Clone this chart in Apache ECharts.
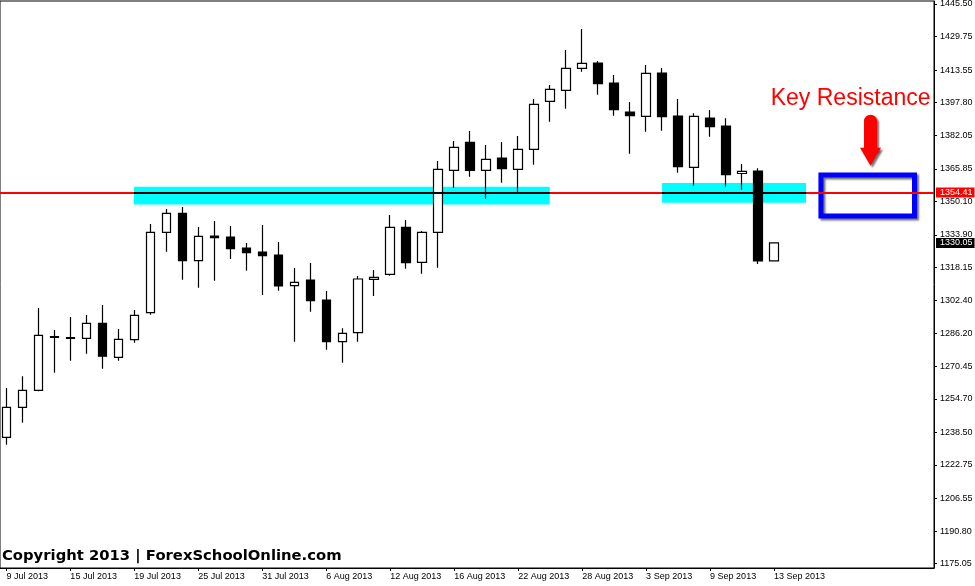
<!DOCTYPE html>
<html>
<head>
<meta charset="utf-8">
<script src="https://cdn.jsdelivr.net/npm/echarts/dist/echarts.min.js"></script>
<style>
html,body{margin:0;padding:0;background:#fff;}
#c{width:975px;height:586px;}
</style>
</head>
<body>
<div id="c"></div>
<script>
// ---- data ----
const dates = [
  "9 Jul 2013","10 Jul 2013","11 Jul 2013","12 Jul 2013","15 Jul 2013","16 Jul 2013","17 Jul 2013","18 Jul 2013",
  "19 Jul 2013","22 Jul 2013","23 Jul 2013","24 Jul 2013","25 Jul 2013","26 Jul 2013","29 Jul 2013","30 Jul 2013",
  "31 Jul 2013","1 Aug 2013","2 Aug 2013","5 Aug 2013","6 Aug 2013","7 Aug 2013","8 Aug 2013","9 Aug 2013",
  "12 Aug 2013","13 Aug 2013","14 Aug 2013","15 Aug 2013","16 Aug 2013","19 Aug 2013","20 Aug 2013","21 Aug 2013",
  "22 Aug 2013","23 Aug 2013","26 Aug 2013","27 Aug 2013","28 Aug 2013","29 Aug 2013","30 Aug 2013","2 Sep 2013",
  "3 Sep 2013","4 Sep 2013","5 Sep 2013","6 Sep 2013","9 Sep 2013","10 Sep 2013","11 Sep 2013","12 Sep 2013",
  "13 Sep 2013"
];
const openV = [
  1236.12,1250.62,1258.84,1284.80,1284.30,1283.96,1291.21,1274.78,
  1283.29,1296.33,1335.18,1344.36,1321.46,1333.40,1332.91,1327.60,
  1325.66,1324.21,1309.38,1312.13,1302.47,1282.32,1286.67,1312.47,
  1314.89,1337.60,1320.69,1335.18,1365.14,1378.67,1365.14,1371.09,
  1365.63,1375.29,1398.48,1403.80,1414.43,1416.99,1407.33,1393.31,
  1391.24,1412.16,1391.38,1366.59,1390.41,1386.55,1363.59,1364.80,
  1321.34
];
const closeV = [
  1250.62,1258.84,1285.41,1284.40,1283.90,1291.21,1275.30,1283.48,
  1295.08,1335.18,1344.36,1321.46,1333.25,1332.57,1327.26,1325.32,
  1323.88,1309.23,1311.02,1302.13,1282.32,1286.38,1312.62,1313.44,
  1337.60,1320.50,1335.18,1365.63,1376.26,1365.14,1370.46,1365.92,
  1375.29,1397.04,1404.28,1414.43,1416.85,1406.99,1394.43,1391.52,
  1412.01,1391.04,1366.88,1391.24,1386.20,1363.02,1364.66,1321.34,
  1330.05
];
const lowV = [
  1232.55,1243.18,1258.35,1267.34,1273.15,1276.50,1269.27,1273.15,
  1281.84,1295.36,1325.80,1312.28,1308.41,1311.80,1322.28,1316.63,
  1304.88,1306.96,1282.32,1296.82,1278.45,1272.17,1282.32,1304.40,
  1314.21,1317.59,1315.18,1318.08,1356.73,1362.05,1351.42,1359.15,
  1354.32,1367.85,1388.63,1394.91,1412.79,1401.67,1391.52,1373.16,
  1383.79,1384.28,1363.98,1357.70,1381.38,1357.22,1355.77,1319.86,
  1321.30
];
const highV = [
  1259.95,1265.60,1298.60,1287.97,1294.26,1295.20,1300.05,1288.46,
  1297.64,1339.20,1346.44,1347.41,1337.74,1340.64,1338.22,1330.02,
  1338.71,1330.50,1317.93,1320.34,1306.82,1288.80,1314.07,1316.97,
  1343.54,1341.12,1335.81,1369.64,1379.30,1384.13,1377.37,1378.82,
  1381.72,1399.59,1406.36,1423.27,1433.42,1417.96,1411.19,1398.15,
  1416.02,1414.57,1399.59,1392.68,1394.28,1390.27,1368.19,1366.11,
  1330.05
];
const xTickIdx = [0,4,8,12,16,20,24,28,32,36,40,44,48];
const yTicks = [1175.05,1190.80,1206.55,1222.75,1238.50,1254.70,1270.45,1286.20,1302.40,
                1318.15,1333.90,1350.10,1365.85,1382.05,1397.80,1413.55,1429.75,1445.50];
const yRange = [1172.97, 1446.95];
const xRange = [-0.4, 58];
const levelPrice = 1354.41;
const lastPrice = 1330.05;
// support zones: [xStart, xEnd, priceTop, priceBottom]
const zoneA = [7.98, 33.97, 1357.22, 1348.62];
const zoneB = [41.0, 50.0, 1359.00, 1349.48];
// key resistance box: [xStart, xEnd, priceTop, priceBottom]
const keyBox = [50.93, 56.78, 1362.87, 1343.06];
const arrowTip = [54.03, 1367.37];
const noteAnchor = [47.79, 1399.74];
const noteText = "Key Resistance";
const copyrightText = "Copyright 2013 | ForexSchoolOnline.com";

// ---- chart ----
const AXFONT = "'Liberation Sans',Arial,sans-serif";
const chart = echarts.init(document.getElementById('c'), null, {renderer: 'canvas'});
const candles = dates.map((d, i) => [i, openV[i], closeV[i], lowV[i], highV[i]]);

const option = {
  animation: false,
  backgroundColor: '#fff',
  grid: {left: 0, top: 1, right: 41, bottom: 18, outerBoundsMode: 'none', containLabel: false,
    show: true, borderColor: '#000', borderWidth: 1, backgroundColor: 'transparent'},
  xAxis: {
    type: 'value', min: xRange[0], max: xRange[1],
    axisLine: {show: true, onZero: false, lineStyle: {color: '#000', width: 1}},
    splitLine: {show: false},
    axisTick: {show: true, customValues: xTickIdx, length: 3, lineStyle: {color: '#000'}},
    axisLabel: {customValues: xTickIdx, formatter: v => dates[Math.round(v)], align: 'left', margin: 4,
      color: '#000', fontFamily: AXFONT, fontSize: 9, hideOverlap: false}
  },
  yAxis: {
    type: 'value', position: 'right', min: yRange[0], max: yRange[1],
    axisLine: {show: true, onZero: false, lineStyle: {color: '#000', width: 1}},
    splitLine: {show: false},
    axisTick: {show: true, customValues: yTicks, length: 3, lineStyle: {color: '#000'}},
    axisLabel: {customValues: yTicks, formatter: v => Number(v).toFixed(2), margin: 6,
      color: '#000', fontFamily: AXFONT, fontSize: 9, hideOverlap: false}
  },
  series: [
    {
      type: 'line', data: [], z: 1, silent: true,
      markArea: {
        silent: true,
        itemStyle: {color: '#00ffff'},
        data: [
          [{coord: [zoneA[0], zoneA[2]]}, {coord: [zoneA[1], zoneA[3]]}],
          [{coord: [zoneB[0], zoneB[2]]}, {coord: [zoneB[1], zoneB[3]]}]
        ]
      }
    },
    {
      type: 'candlestick', z: 2, silent: true,
      data: candles,
      encode: {x: 0, y: [1, 2, 3, 4]},
      barWidth: 9,
      itemStyle: {color: '#fff', color0: '#000', borderColor: '#000', borderColor0: '#000', borderWidth: 1.2}
    },
    {
      type: 'line', data: [], z: 3, silent: true,
      markLine: {
        silent: true, symbol: 'none', animation: false,
        data: [
          {yAxis: levelPrice, lineStyle: {color: '#ff0000', width: 2, type: 'solid'},
            label: {show: true, position: 'end', distance: 2, formatter: levelPrice.toFixed(2),
              backgroundColor: '#ff0000', color: '#fff', fontFamily: AXFONT, fontSize: 9,
              padding: [1, 2, 0, 4], lineHeight: 9}},
          {yAxis: lastPrice, lineStyle: {color: 'rgba(0,0,0,0)', width: 0},
            label: {show: true, position: 'end', distance: 2, formatter: lastPrice.toFixed(2),
              backgroundColor: '#000', color: '#fff', fontFamily: AXFONT, fontSize: 9,
              padding: [1, 2, 0, 4], lineHeight: 9}}
        ]
      },
      markArea: {
        silent: true,
        data: [
          [{coord: [keyBox[0], keyBox[2]],
            itemStyle: {color: 'rgba(0,0,0,0)', borderColor: '#0000ff', borderWidth: 5,
              shadowColor: 'rgba(0,0,0,0.55)', shadowBlur: 2, shadowOffsetX: 2, shadowOffsetY: 2}},
           {coord: [keyBox[1], keyBox[3]]}]
        ]
      }
    },
    {
      type: 'line', data: [], z: 4, silent: true,
      markLine: {
        silent: true, symbol: 'none', animation: false,
        lineStyle: {color: '#000', width: 2, type: 'solid'},
        label: {show: false},
        data: [
          [{coord: [zoneA[0], levelPrice]}, {coord: [zoneA[1], levelPrice]}],
          [{coord: [zoneB[0], levelPrice]}, {coord: [zoneB[1], levelPrice]}]
        ]
      }
    }
  ]
};
chart.setOption(option);

// annotations positioned from data coordinates
const tip = chart.convertToPixel({gridIndex: 0}, arrowTip);
const note = chart.convertToPixel({gridIndex: 0}, noteAnchor);
const tx = tip[0], ty = tip[1];
chart.setOption({
  graphic: [
    {
      type: 'group', silent: true, z: 100,
      children: [
        {type: 'rect', shape: {x: tx - 6.5, y: ty - 51, width: 13, height: 36, r: [6.5, 6.5, 0, 0]},
          style: {fill: '#ff0000', shadowColor: 'rgba(0,0,0,0.55)', shadowBlur: 2, shadowOffsetX: 2, shadowOffsetY: 2}},
        {type: 'polygon', shape: {points: [[tx - 10.5, ty - 18], [tx + 10.5, ty - 18], [tx, ty]]},
          style: {fill: '#ff0000', shadowColor: 'rgba(0,0,0,0.55)', shadowBlur: 2, shadowOffsetX: 2, shadowOffsetY: 2}}
      ]
    },
    {
      type: 'text', silent: true, z: 100, x: note[0], y: note[1],
      style: {text: noteText, fill: '#ff0000', font: "23px 'Liberation Sans', Arial, sans-serif",
        align: 'left', verticalAlign: 'middle'}
    },
    {
      type: 'text', silent: true, z: 100, x: 2, y: 556.5,
      style: {text: copyrightText, fill: '#000', font: "bold 14.8px 'DejaVu Sans', sans-serif",
        align: 'left', verticalAlign: 'middle'}
    }
  ]
});
</script>
</body>
</html>
